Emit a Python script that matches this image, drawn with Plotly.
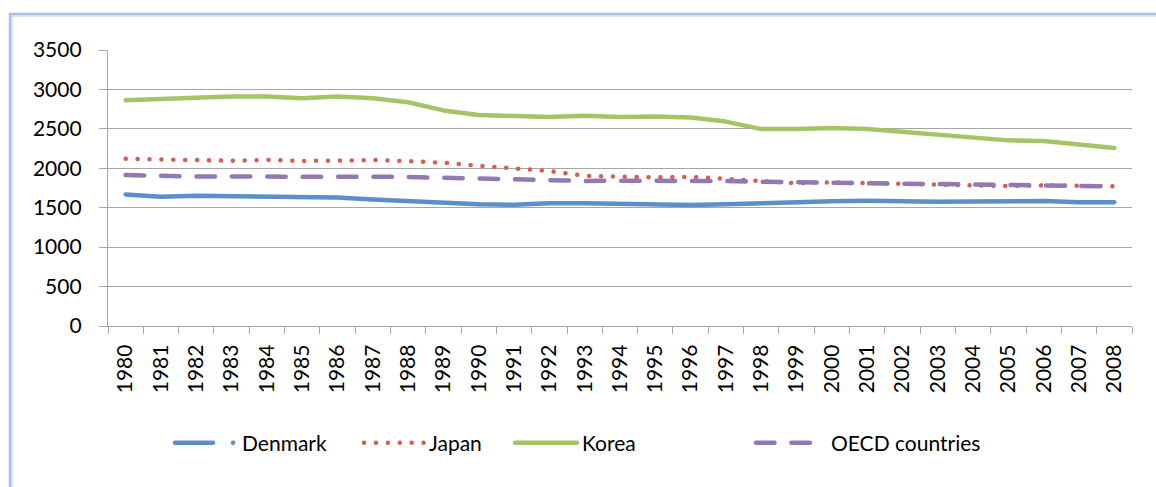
import plotly.graph_objects as go

# Average annual hours actually worked per worker
years = [str(y) for y in range(1980, 2009)]

denmark = [1669, 1639, 1652, 1647, 1640, 1632, 1630, 1603, 1583, 1558,
           1545, 1538, 1557, 1558, 1549, 1543, 1535, 1544, 1560, 1578,
           1583, 1587, 1579, 1577, 1578, 1578, 1586, 1570, 1570]
japan = [2121, 2110, 2105, 2095, 2106, 2093, 2097, 2105, 2090, 2070,
         2031, 1998, 1965, 1905, 1898, 1884, 1892, 1864, 1842, 1810,
         1821, 1809, 1798, 1799, 1787, 1775, 1784, 1785, 1772]
korea = [2864, 2882, 2900, 2911, 2911, 2887, 2911, 2888, 2838, 2734,
         2677, 2663, 2649, 2665, 2651, 2658, 2643, 2592, 2497, 2497,
         2512, 2499, 2464, 2424, 2392, 2354, 2346, 2306, 2256]
oecd = [1915, 1900, 1895, 1895, 1898, 1895, 1892, 1893, 1890, 1880,
        1866, 1850, 1845, 1840, 1842, 1845, 1843, 1838, 1828, 1822,
        1818, 1808, 1798, 1792, 1790, 1786, 1783, 1778, 1771]

y_ticks = [0, 500, 1000, 1500, 2000, 2500, 3000, 3500]

W, H = 1156, 487
ML, MR, MT, MB = 108, 24, 50, 161
PW, PH = W - ML - MR, H - MT - MB

FONT = "Lato"
GRID = "#A6A6A6"


def px_x(px):
    return (px - ML) / PW


def px_y(py):
    return (H - MB - py) / PH


series = [
    ("Denmark", denmark, "#5B8FC9", "solid", "legend", 170),
    ("Japan", japan, "#D35F55", "0.1px,11.8px", "legend2", 359),
    ("Korea", korea, "#A6C466", "solid", "legend3", 510),
    ("OECD countries", oecd, "#917AB4", "18.5px,16.9px", "legend4", 751),
]

fig = go.Figure()
for name, vals, color, dash, leg, _ in series:
    fig.add_trace(go.Scatter(
        x=years, y=vals, name=name, mode="lines",
        line=dict(color=color, width=4.5, dash=dash),
        legend=leg,
    ))

legend_widths = {"legend": 62, "legend2": 60, "legend3": 62, "legend4": 70}
layout_legends = {}
for name, _, _, _, leg, xpx in series:
    layout_legends[leg] = dict(
        x=px_x(xpx), xanchor="left", y=px_y(443), yanchor="middle",
        orientation="h", bgcolor="rgba(0,0,0,0)", borderwidth=0,
        font=dict(family=FONT, size=21, color="#000000"),
        itemwidth=legend_widths[leg],
    )

fig.update_layout(
    width=W, height=H,
    margin=dict(l=ML, r=MR, t=MT, b=MB, pad=0),
    paper_bgcolor="white", plot_bgcolor="white",
    showlegend=True,
    font=dict(family=FONT, size=21, color="#000000"),
    xaxis=dict(
        type="category", range=[-0.5, len(years) - 0.5],
        tickson="boundaries", ticks="outside",
        ticklen=7, tickwidth=1.3, tickcolor=GRID,
        showline=True, linecolor=GRID, linewidth=1.3,
        showgrid=False, tickangle=-90, ticklabelstandoff=9,
        tickfont=dict(family=FONT, size=21, color="#000000"),
    ),
    yaxis=dict(
        range=[0, 3500], tickvals=y_ticks, ticks="outside",
        ticklen=8, tickwidth=1.3, tickcolor=GRID,
        showline=True, linecolor=GRID, linewidth=1.3,
        showgrid=True, gridcolor=GRID, gridwidth=1.3, zeroline=False,
        ticklabelstandoff=13,
        tickfont=dict(family=FONT, size=21, color="#000000"),
    ),
    shapes=[
        dict(type="rect", xref="paper", yref="paper",
             x0=px_x(10), x1=px_x(1300), y0=px_y(14), y1=px_y(700),
             line=dict(color="#A8C2E4", width=2.5), layer="below"),
        dict(type="rect", xref="paper", yref="paper",
             x0=px_x(12), x1=px_x(1300), y0=px_y(16), y1=px_y(700),
             line=dict(color="#C8C8C8", width=1), layer="below"),
    ],
    **layout_legends,
)

# Round line caps everywhere; the Denmark legend key is a short bar followed by a dot.
post = """
var gd = document.getElementById('{plot_id}');
function styleLines() {
  gd.querySelectorAll('.scatterlayer .js-line, .legendlines path').forEach(function (p) {
    p.style.strokeLinecap = 'round';
    p.style.strokeLinejoin = 'round';
  });
  gd.querySelectorAll('.infolayer .traces').forEach(function (t) {
    var txt = t.querySelector('.legendtext');
    if (txt && txt.textContent === 'Denmark') {
      t.querySelectorAll('.legendlines path').forEach(function (p) {
        p.style.strokeDasharray = '38px,20px,0.1px,200px';
      });
    }
  });
}
styleLines();
gd.on('plotly_afterplot', styleLines);
"""

fig.write_html("out.html", post_script=post)
